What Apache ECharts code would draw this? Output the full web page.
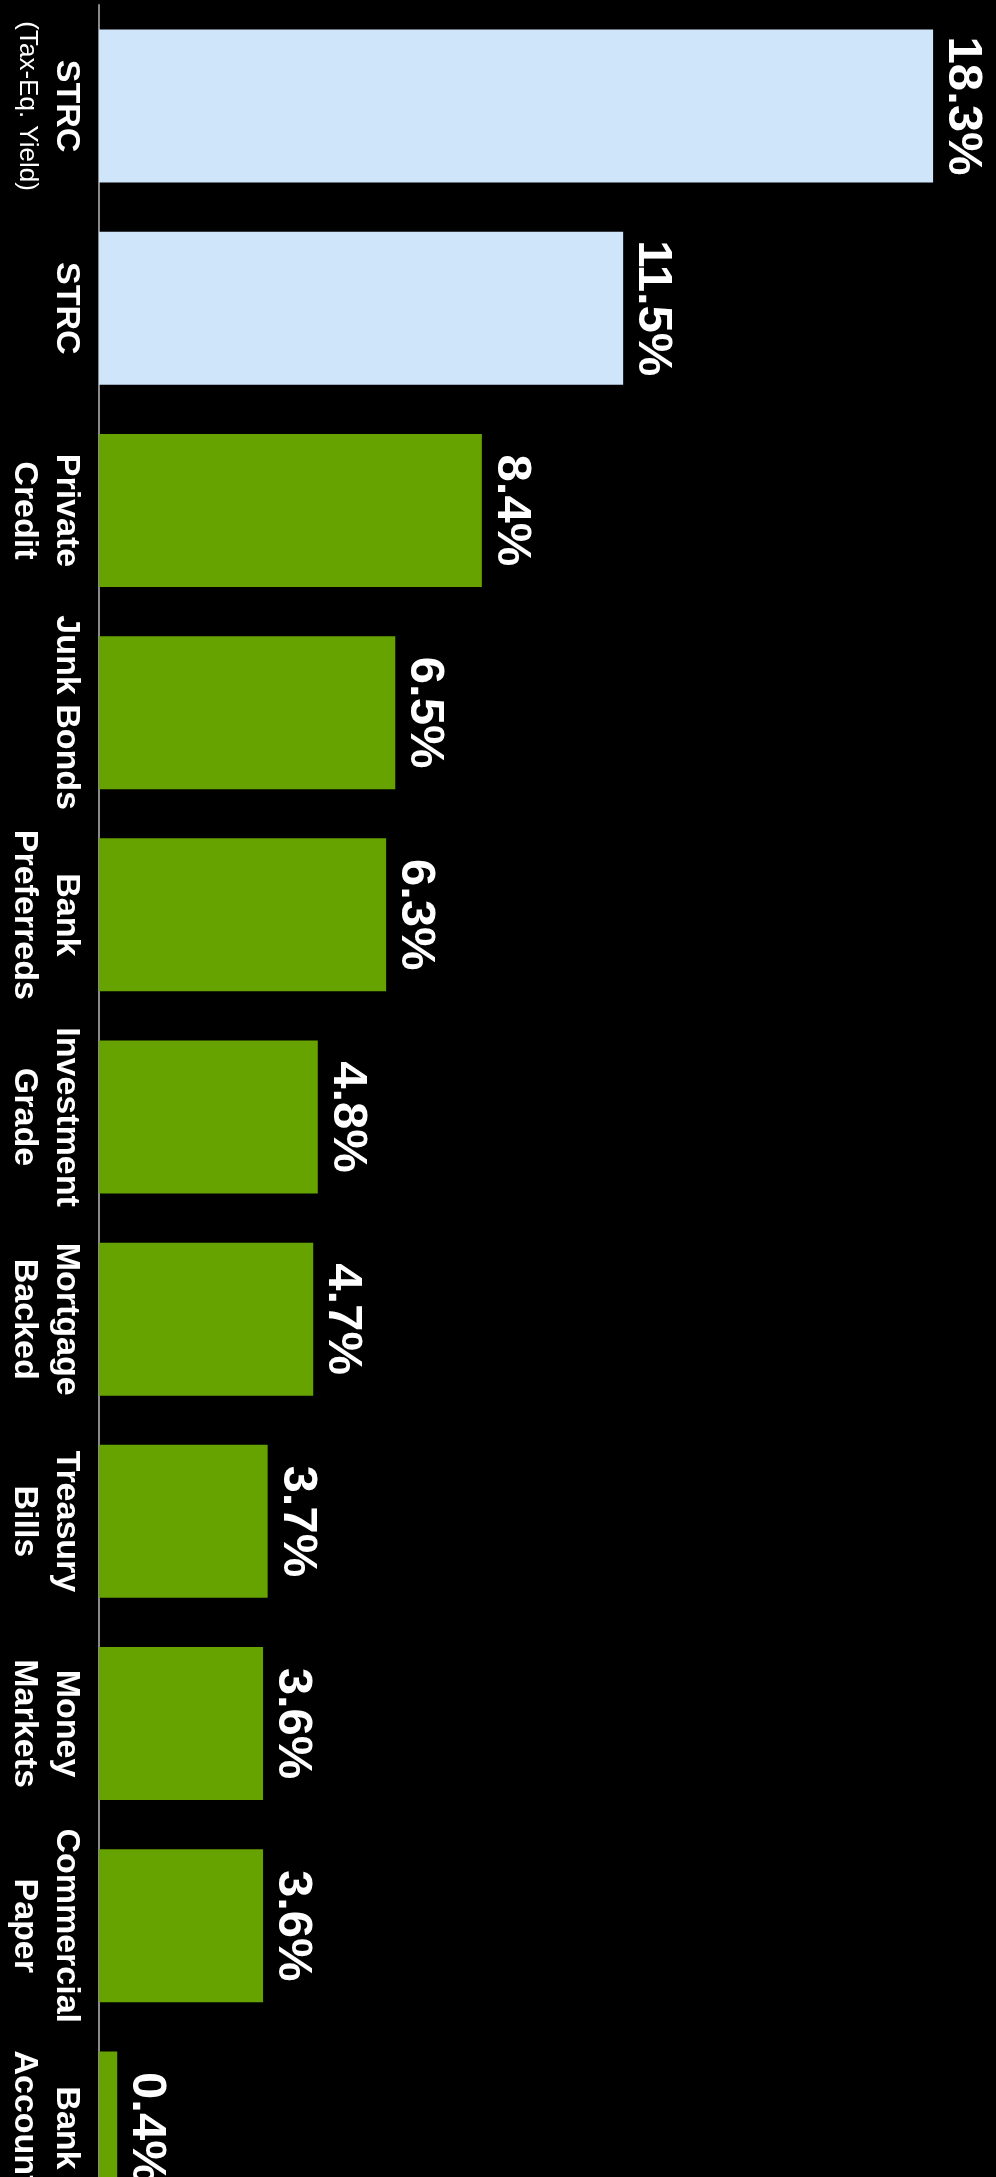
<!DOCTYPE html>
<html>
<head>
<meta charset="utf-8">
<script src="https://cdn.jsdelivr.net/npm/echarts@6/dist/echarts.min.js"></script>
<style>
  html, body { margin: 0; padding: 0; background: #000; }
  #main { width: 996px; height: 2177px; }
</style>
</head>
<body>
<div id="main"></div>
<script type="text/javascript">
// yields, top to bottom
var categories = [
    'STRC\n(Tax-Eq. Yield)', 'STRC', 'Private\nCredit', 'Junk Bonds', 'Bank\nPreferreds',
    'Investment\nGrade', 'Mortgage\nBacked', 'Treasury\nBills', 'Money\nMarkets',
    'Commercial\nPaper', 'Bank\nAccounts'
];
var yields = [18.3, 11.5, 8.4, 6.5, 6.3, 4.8, 4.7, 3.7, 3.6, 3.6, 0.4];

var myChart = echarts.init(document.getElementById('main'));

var option = {
    backgroundColor: '#000',
    animation: false,
    grid: {
        left: 99,
        top: 5,
        width: 866,
        height: 2224,
        containLabel: false,
        outerBoundsMode: 'none'
    },
    xAxis: {
        type: 'value',
        min: 0,
        max: 19,
        show: false
    },
    yAxis: {
        type: 'category',
        inverse: true,
        data: categories,
        axisLine: { show: true, lineStyle: { color: '#8a8a8a', width: 2 } },
        axisTick: { show: false },
        splitLine: { show: false },
        axisLabel: {
            interval: 0,
            rotate: -90,
            align: 'center',
            verticalAlign: 'top',
            margin: 12,
            color: '#fff',
            fontFamily: 'Liberation Sans, Arial, sans-serif',
            fontWeight: 'bold',
            fontSize: 34,
            lineHeight: 42,
            formatter: function (v) {
                var lines = v.split('\n');
                if (lines.length > 1 && lines[1].charAt(0) === '(') {
                    return '{main|' + lines[0] + '}\n{sub|' + lines[1] + '}';
                }
                return v;
            },
            rich: {
                main: { fontSize: 34, fontWeight: 'bold', lineHeight: 42, color: '#fff',
                        fontFamily: 'Liberation Sans, Arial, sans-serif' },
                sub: { fontSize: 26, fontWeight: 'normal', lineHeight: 36, color: '#fff',
                       fontFamily: 'Liberation Sans, Arial, sans-serif' }
            }
        }
    },
    series: [{
        type: 'bar',
        data: yields,
        barWidth: 153,
        itemStyle: {
            color: function (params) {
                return params.name.indexOf('STRC') === 0 ? '#cfe5fa' : '#66a300';
            }
        },
        label: {
            show: true,
            position: 'right',
            rotate: -90,
            align: 'center',
            verticalAlign: 'bottom',
            distance: 5,
            color: '#fff',
            fontFamily: 'Liberation Sans, Arial, sans-serif',
            fontWeight: 'bold',
            fontSize: 49,
            formatter: '{c}%'
        }
    }]
};

myChart.setOption(option);
</script>
</body>
</html>
